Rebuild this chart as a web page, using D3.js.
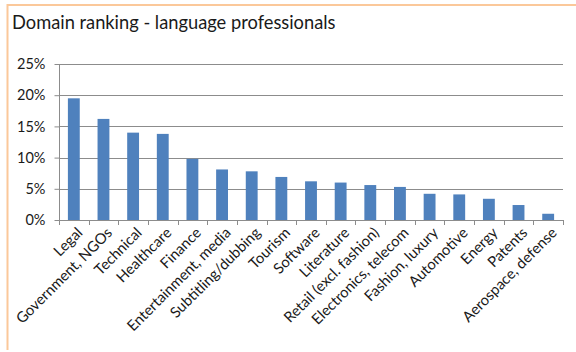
<!DOCTYPE html>
<html>
<head>
<meta charset="utf-8">
<script src="https://cdn.jsdelivr.net/npm/d3@7"></script>
<style>
  html, body { margin: 0; padding: 0; background: #fff; }
  svg { display: block; }
  text { font-family: Lato, "Open Sans", sans-serif; fill: #1a1a1a; }
</style>
</head>
<body>
<svg id="chart" width="576" height="352"></svg>
<script>
// Share of language professionals by domain
const domains = [
  "Legal", "Government, NGOs", "Technical", "Healthcare", "Finance",
  "Entertainment, media", "Subtitling/dubbing", "Tourism", "Software",
  "Literature", "Retail (excl. fashion)", "Electronics, telecom",
  "Fashion, luxury", "Automotive", "Energy", "Patents", "Aerospace, defense"
];
const shares = [
  0.195, 0.162, 0.140, 0.138, 0.098,
  0.081, 0.078, 0.069, 0.062,
  0.060, 0.056, 0.053,
  0.042, 0.041, 0.034, 0.024, 0.010
];
const yTicks = [0, 0.05, 0.10, 0.15, 0.20, 0.25];
const titleText = "Domain ranking - language professionals";

const svg = d3.select("#chart");
const W = 576, H = 352;
const plot = { left: 59, right: 563, top: 64, bottom: 220 };

// chart frame (top and left edges visible)
svg.append("line").attr("x1", 7).attr("x2", W).attr("y1", 5).attr("y2", 5)
  .attr("stroke", "#fbc89a").attr("stroke-width", 2);
svg.append("line").attr("x1", 7.5).attr("x2", 7.5).attr("y1", 4).attr("y2", 350)
  .attr("stroke", "#fbc89a").attr("stroke-width", 2);

svg.append("text")
  .attr("x", 12).attr("y", 29)
  .attr("font-size", 18.3)
  .text(titleText);

const xOuter = d3.scaleBand().domain(domains).range([plot.left, plot.right]);
const barW = xOuter.bandwidth() / 2.5;

const y = d3.scaleLinear().domain([0, 0.25]).range([plot.bottom, plot.top]);

// horizontal gridlines
svg.append("g")
  .selectAll("line")
  .data(yTicks.filter(d => d > 0))
  .join("line")
  .attr("x1", plot.left).attr("x2", plot.right)
  .attr("y1", d => Math.round(y(d)) + 0.5).attr("y2", d => Math.round(y(d)) + 0.5)
  .attr("stroke", "#8c8c8c").attr("stroke-width", 1);

// bars
svg.append("g")
  .selectAll("rect")
  .data(domains)
  .join("rect")
  .attr("x", (d) => xOuter(d) + (xOuter.bandwidth() - barW) / 2)
  .attr("width", barW)
  .attr("y", (d, i) => y(shares[i]))
  .attr("height", (d, i) => plot.bottom - y(shares[i]))
  .attr("fill", "#4f81bd");

// y axis
const yAxis = svg.append("g")
  .attr("transform", `translate(${plot.left + 0.5},0)`)
  .call(d3.axisLeft(y).tickValues(yTicks).tickFormat(d3.format(".0%")).tickSize(5).tickPadding(9));
yAxis.select(".domain").attr("stroke", "#8c8c8c").attr("d", `M0,${plot.top}V${plot.bottom}`);
yAxis.selectAll(".tick line").attr("stroke", "#8c8c8c");
yAxis.selectAll(".tick text")
  .attr("font-size", 14.5)
  .attr("font-family", "Lato, 'Open Sans', sans-serif")
  .attr("fill", "#1a1a1a");

// x axis line with boundary ticks
const xg = svg.append("g");
xg.append("line")
  .attr("x1", plot.left).attr("x2", plot.right)
  .attr("y1", plot.bottom + 0.5).attr("y2", plot.bottom + 0.5)
  .attr("stroke", "#8c8c8c");
const bounds = domains.map(d => xOuter(d)).concat([plot.right]);
xg.selectAll("line.tk")
  .data(bounds)
  .join("line").attr("class", "tk")
  .attr("x1", d => Math.round(d) + 0.5).attr("x2", d => Math.round(d) + 0.5)
  .attr("y1", plot.bottom).attr("y2", plot.bottom + 5)
  .attr("stroke", "#8c8c8c");

// rotated category labels
svg.append("g")
  .selectAll("text")
  .data(domains)
  .join("text")
  .attr("transform", d => `translate(${xOuter(d) + xOuter.bandwidth() / 2 + 6},${plot.bottom + 10}) rotate(-45)`)
  .attr("text-anchor", "end")
  .attr("dy", "0.35em")
  .attr("font-size", 14.8)
  .text(d => d);
</script>
</body>
</html>
